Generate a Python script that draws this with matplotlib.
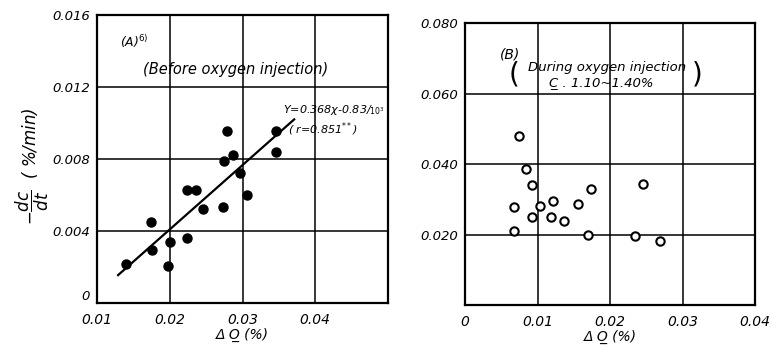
import matplotlib
matplotlib.use("Agg")
import matplotlib.pyplot as plt

# --- datos ---
# (A) antes de la inyeccion de oxigeno
xa = [0.0140, 0.0174, 0.0175, 0.0197, 0.0200, 0.0223, 0.0224, 0.0236, 0.0245,
      0.0273, 0.0274, 0.0279, 0.0287, 0.0296, 0.0306, 0.0346, 0.0346]
ya = [0.00218, 0.00449, 0.00297, 0.00203, 0.00340, 0.00360, 0.00627, 0.00627, 0.00520,
      0.00535, 0.00787, 0.00955, 0.00822, 0.00722, 0.00600, 0.00955, 0.00837]
fit_x = [0.0129, 0.0371]
fit_y = [0.00155, 0.0102]

# (B) durante la inyeccion de oxigeno
xb = [0.0075, 0.0084, 0.0092, 0.0068, 0.0067, 0.0092, 0.0104, 0.0122, 0.0118,
      0.0137, 0.0156, 0.0174, 0.0170, 0.0245, 0.0235, 0.0269]
yb = [0.0479, 0.0385, 0.0340, 0.0277, 0.0210, 0.0250, 0.0281, 0.0296, 0.0249,
      0.0239, 0.0287, 0.0328, 0.0198, 0.0343, 0.0196, 0.0182]

ticks_xa = [0.01, 0.02, 0.03, 0.04]
labels_xa = ["0.01", "0.02", "0.03", "0.04"]
ticks_ya = [0, 0.004, 0.008, 0.012, 0.016]
labels_ya = ["0", "0.004", "0.008", "0.012", "0.016"]
ticks_xb = [0, 0.01, 0.02, 0.03, 0.04]
labels_xb = ["0", "0.01", "0.02", "0.03", "0.04"]
ticks_yb = [0.020, 0.040, 0.060, 0.080]
labels_yb = ["0.020", "0.040", "0.060", "0.080"]

plt.rcParams["font.family"] = ["DejaVu Sans"]
plt.rcParams["mathtext.fontset"] = "dejavusans"

fig = plt.figure(figsize=(7.73, 3.47), dpi=100)
axA = fig.add_axes([0.1255, 0.1268, 0.3765, 0.830])
axB = fig.add_axes([0.6016, 0.121, 0.3752, 0.8127])


def estilo(ax, xt, xl, yt, yl, xlim, ylim):
    ax.set_xlim(*xlim)
    ax.set_ylim(*ylim)
    ax.set_xticks(xt)
    ax.set_xticklabels(xl, fontstyle="italic", fontsize=10)
    ax.set_yticks(yt)
    ax.set_yticklabels(yl, fontstyle="italic", fontsize=9.5)
    ax.tick_params(axis="x", length=0, pad=7)
    ax.tick_params(axis="y", length=0, pad=5)
    ax.grid(True, color="black", linewidth=1.1)
    ax.set_axisbelow(True)
    for s in ax.spines.values():
        s.set_linewidth(1.6)


estilo(axA, ticks_xa, labels_xa, ticks_ya, labels_ya, (0.01, 0.05), (0, 0.016))
estilo(axB, ticks_xb, labels_xb, ticks_yb, labels_yb, (0, 0.04), (0, 0.08))
# el "0" del eje y un poco arriba para no chocar con "0.01"
axA.get_yticklabels()[0].set_verticalalignment("bottom")

xlab = "\u0394 O\u0332 (%)"

# panel A
axA.plot(fit_x, fit_y, color="black", linewidth=1.6, zorder=3)
axA.plot(xa, ya, "o", color="black", markersize=6.5, zorder=4)
axA.text(0.078, 0.89, r"(A)$^{6)}$", transform=axA.transAxes, fontsize=9, fontstyle="italic")
axA.text(0.475, 0.795, "(Before oxygen injection)", transform=axA.transAxes,
         fontsize=10.5, fontstyle="italic", ha="center")
axA.text(0.64, 0.66, r"Y=0.368$\chi$-0.83/$_{10^3}$", transform=axA.transAxes,
         fontsize=8, fontstyle="italic")
axA.text(0.655, 0.59, r"( r=0.851$^{**}$)", transform=axA.transAxes,
         fontsize=8, fontstyle="italic")
axA.set_xlabel(xlab, fontsize=10, fontstyle="italic", labelpad=1)
fig.text(0.042, 0.52, r"$-\dfrac{dc}{dt}$  ( %/min)", rotation=90, ha="center", va="center",
         fontsize=12, fontstyle="italic")

# panel B
axB.plot(xb, yb, "o", markerfacecolor="white", markeredgecolor="black",
         markeredgewidth=1.5, markersize=6, zorder=4)
axB.text(0.12, 0.875, "(B)", transform=axB.transAxes, fontsize=10, fontstyle="italic")
axB.text(0.49, 0.83, "During oxygen injection", transform=axB.transAxes,
         fontsize=9.5, fontstyle="italic", ha="center")
axB.text(0.47, 0.775, "C\u0332 . 1.10~1.40%", transform=axB.transAxes,
         fontsize=9.5, fontstyle="italic", ha="center")
axB.text(0.17, 0.79, "(", transform=axB.transAxes, fontsize=20, ha="center")
axB.text(0.80, 0.79, ")", transform=axB.transAxes, fontsize=20, ha="center")
axB.set_xlabel(xlab, fontsize=10, fontstyle="italic", labelpad=1)

fig.savefig("out.png", dpi=100)
